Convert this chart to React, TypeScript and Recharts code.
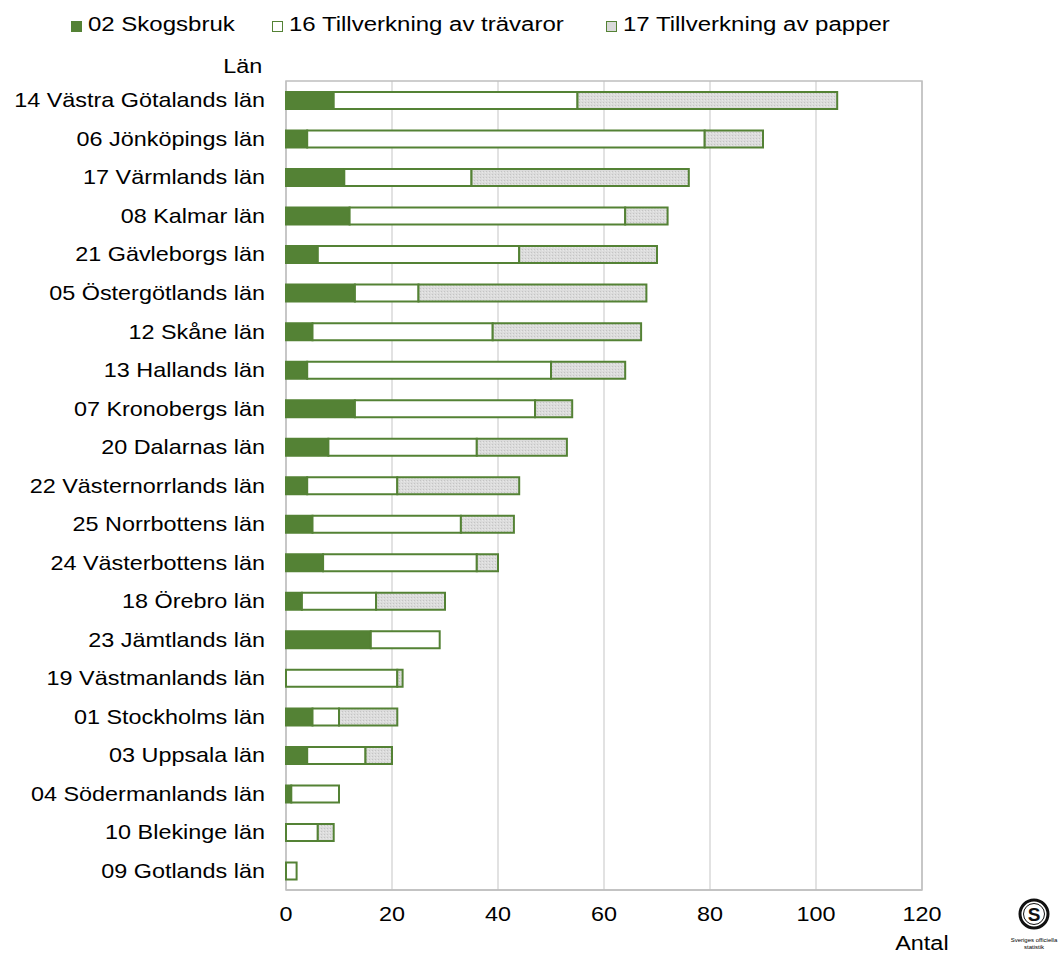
import { BarChart, Bar, XAxis, YAxis, CartesianGrid, ReferenceArea } from 'recharts'

// Län, sorted as in the reference (largest total first)
const counties = [
  '14 Västra Götalands län',
  '06 Jönköpings län',
  '17 Värmlands län',
  '08 Kalmar län',
  '21 Gävleborgs län',
  '05 Östergötlands län',
  '12 Skåne län',
  '13 Hallands län',
  '07 Kronobergs län',
  '20 Dalarnas län',
  '22 Västernorrlands län',
  '25 Norrbottens län',
  '24 Västerbottens län',
  '18 Örebro län',
  '23 Jämtlands län',
  '19 Västmanlands län',
  '01 Stockholms län',
  '03 Uppsala län',
  '04 Södermanlands län',
  '10 Blekinge län',
  '09 Gotlands län',
]

const skogsbruk = [9, 4, 11, 12, 6, 13, 5, 4, 13, 8, 4, 5, 7, 3, 16, 0, 5, 4, 1, 0, 0]
const travaror = [46, 75, 24, 52, 38, 12, 34, 46, 34, 28, 17, 28, 29, 14, 13, 21, 5, 11, 9, 6, 2]
const papper = [49, 11, 41, 8, 26, 43, 28, 14, 7, 17, 23, 10, 4, 13, 0, 1, 11, 5, 0, 3, 0]

const xTicks = [0, 20, 40, 60, 80, 100, 120]

const GREEN = '#548235'
const GRID = '#d9d9d9'
const FRAME = '#bfbfbf'
// the reference's text is drawn a bit wider than plain Arial
const STRETCH = 1.17
const LEGEND_STRETCH = 1.2

const series = [
  { key: 'skogsbruk', name: '02 Skogsbruk', fill: GREEN, legendX: 71 },
  { key: 'travaror', name: '16 Tillverkning av trävaror', fill: '#ffffff', legendX: 272 },
  { key: 'papper', name: '17 Tillverkning av papper', fill: 'url(#paperDots)', legendX: 606 },
]

const data = counties.map((lan, i) => ({
  lan,
  skogsbruk: skogsbruk[i],
  travaror: travaror[i],
  papper: papper[i],
}))

const wide = (origin: string, k = STRETCH) => ({
  transform: `scaleX(${k})`,
  transformOrigin: origin,
  whiteSpace: 'nowrap' as const,
})

function LegendRow() {
  return (
    <>
      {series.map((s) => (
        <div key={s.key} style={{ position: 'absolute', left: s.legendX, top: 13, fontSize: 20, height: 26 }}>
          <span
            style={{
              position: 'absolute',
              left: 0,
              top: 8,
              width: 9,
              height: 9,
              border: `1.5px solid ${GREEN}`,
              background: s.key === 'papper' ? '#d9d9d9' : s.fill,
            }}
          />
          <span style={{ position: 'absolute', left: 17, top: 0, ...wide('left center', LEGEND_STRETCH) }}>{s.name}</span>
        </div>
      ))}
    </>
  )
}

function Logo() {
  return (
    <div style={{ position: 'absolute', left: 1004, top: 897, width: 60, textAlign: 'center' }}>
      <svg width={34} height={34} viewBox="0 0 34 34">
        <circle cx={17} cy={17} r={14} fill="none" stroke="#111" strokeWidth={3} />
        <circle cx={17} cy={17} r={10.5} fill="none" stroke="#111" strokeWidth={1} />
        <text x={17} y={24} textAnchor="middle" fontSize={19} fontWeight={700} fill="#111">S</text>
      </svg>
      <div style={{ fontSize: 6, lineHeight: '7px', marginTop: 2 }}>Sveriges officiella statistik</div>
    </div>
  )
}

function CountyTick(props: any) {
  const { x, y, payload } = props
  return (
    <g transform={`translate(${x},${y}) scale(${STRETCH},1)`}>
      <text x={0} y={0} dy="0.355em" textAnchor="end" fontSize={20} fill="#000">
        {payload.value}
      </text>
    </g>
  )
}

function ValueTick(props: any) {
  const { x, y, payload } = props
  return (
    <g transform={`translate(${x},${y}) scale(${STRETCH},1)`}>
      <text x={0} y={0} dy="0.71em" textAnchor="middle" fontSize={20} fill="#000">
        {payload.value}
      </text>
    </g>
  )
}

export default function App() {
  return (
    <div
      style={{
        position: 'absolute',
        left: 0,
        top: 0,
        width: 1064,
        height: 958,
        background: '#fff',
        fontFamily: '"Liberation Sans", Arial, sans-serif',
        overflow: 'hidden',
      }}
    >
      <BarChart
        width={1064}
        height={958}
        layout="vertical"
        data={data}
        margin={{ top: 81, right: 142, bottom: 28, left: 0 }}
        barCategoryGap={0}
      >
        <defs>
          <pattern id="paperDots" width={3} height={3} patternUnits="userSpaceOnUse">
            <rect width={3} height={3} fill="#dcdcdc" />
            <rect x={0} y={0} width={1} height={1} fill="#c4c4c4" />
            <rect x={2} y={1} width={1} height={1} fill="#e8e8e8" />
          </pattern>
        </defs>
        <CartesianGrid horizontal={false} stroke={GRID} strokeWidth={1.5} />
        <ReferenceArea x1={0} x2={120} fill="none" stroke={FRAME} strokeWidth={1.5} />
        <XAxis
          type="number"
          domain={[0, 120]}
          ticks={xTicks}
          tickLine={false}
          tickSize={0}
          tickMargin={17}
          axisLine={{ stroke: FRAME, strokeWidth: 1.5 }}
          tick={<ValueTick />}
          height={40}
        />
        <YAxis
          type="category"
          dataKey="lan"
          width={286}
          interval={0}
          tickLine={false}
          tickSize={0}
          tickMargin={21}
          axisLine={false}
          tick={<CountyTick />}
        />
        {series.map((s) => (
          <Bar
            key={s.key}
            dataKey={s.key}
            name={s.name}
            stackId="lan"
            fill={s.fill}
            stroke={GREEN}
            strokeWidth={2}
            barSize={17}
            isAnimationActive={false}
          />
        ))}
      </BarChart>
      <LegendRow />
      <div style={{ position: 'absolute', right: 1064 - 262, top: 55, fontSize: 20, ...wide('right center') }}>Län</div>
      <div style={{ position: 'absolute', right: 1064 - 949, top: 932, fontSize: 20, ...wide('right center') }}>Antal</div>
      <Logo />
    </div>
  )
}
